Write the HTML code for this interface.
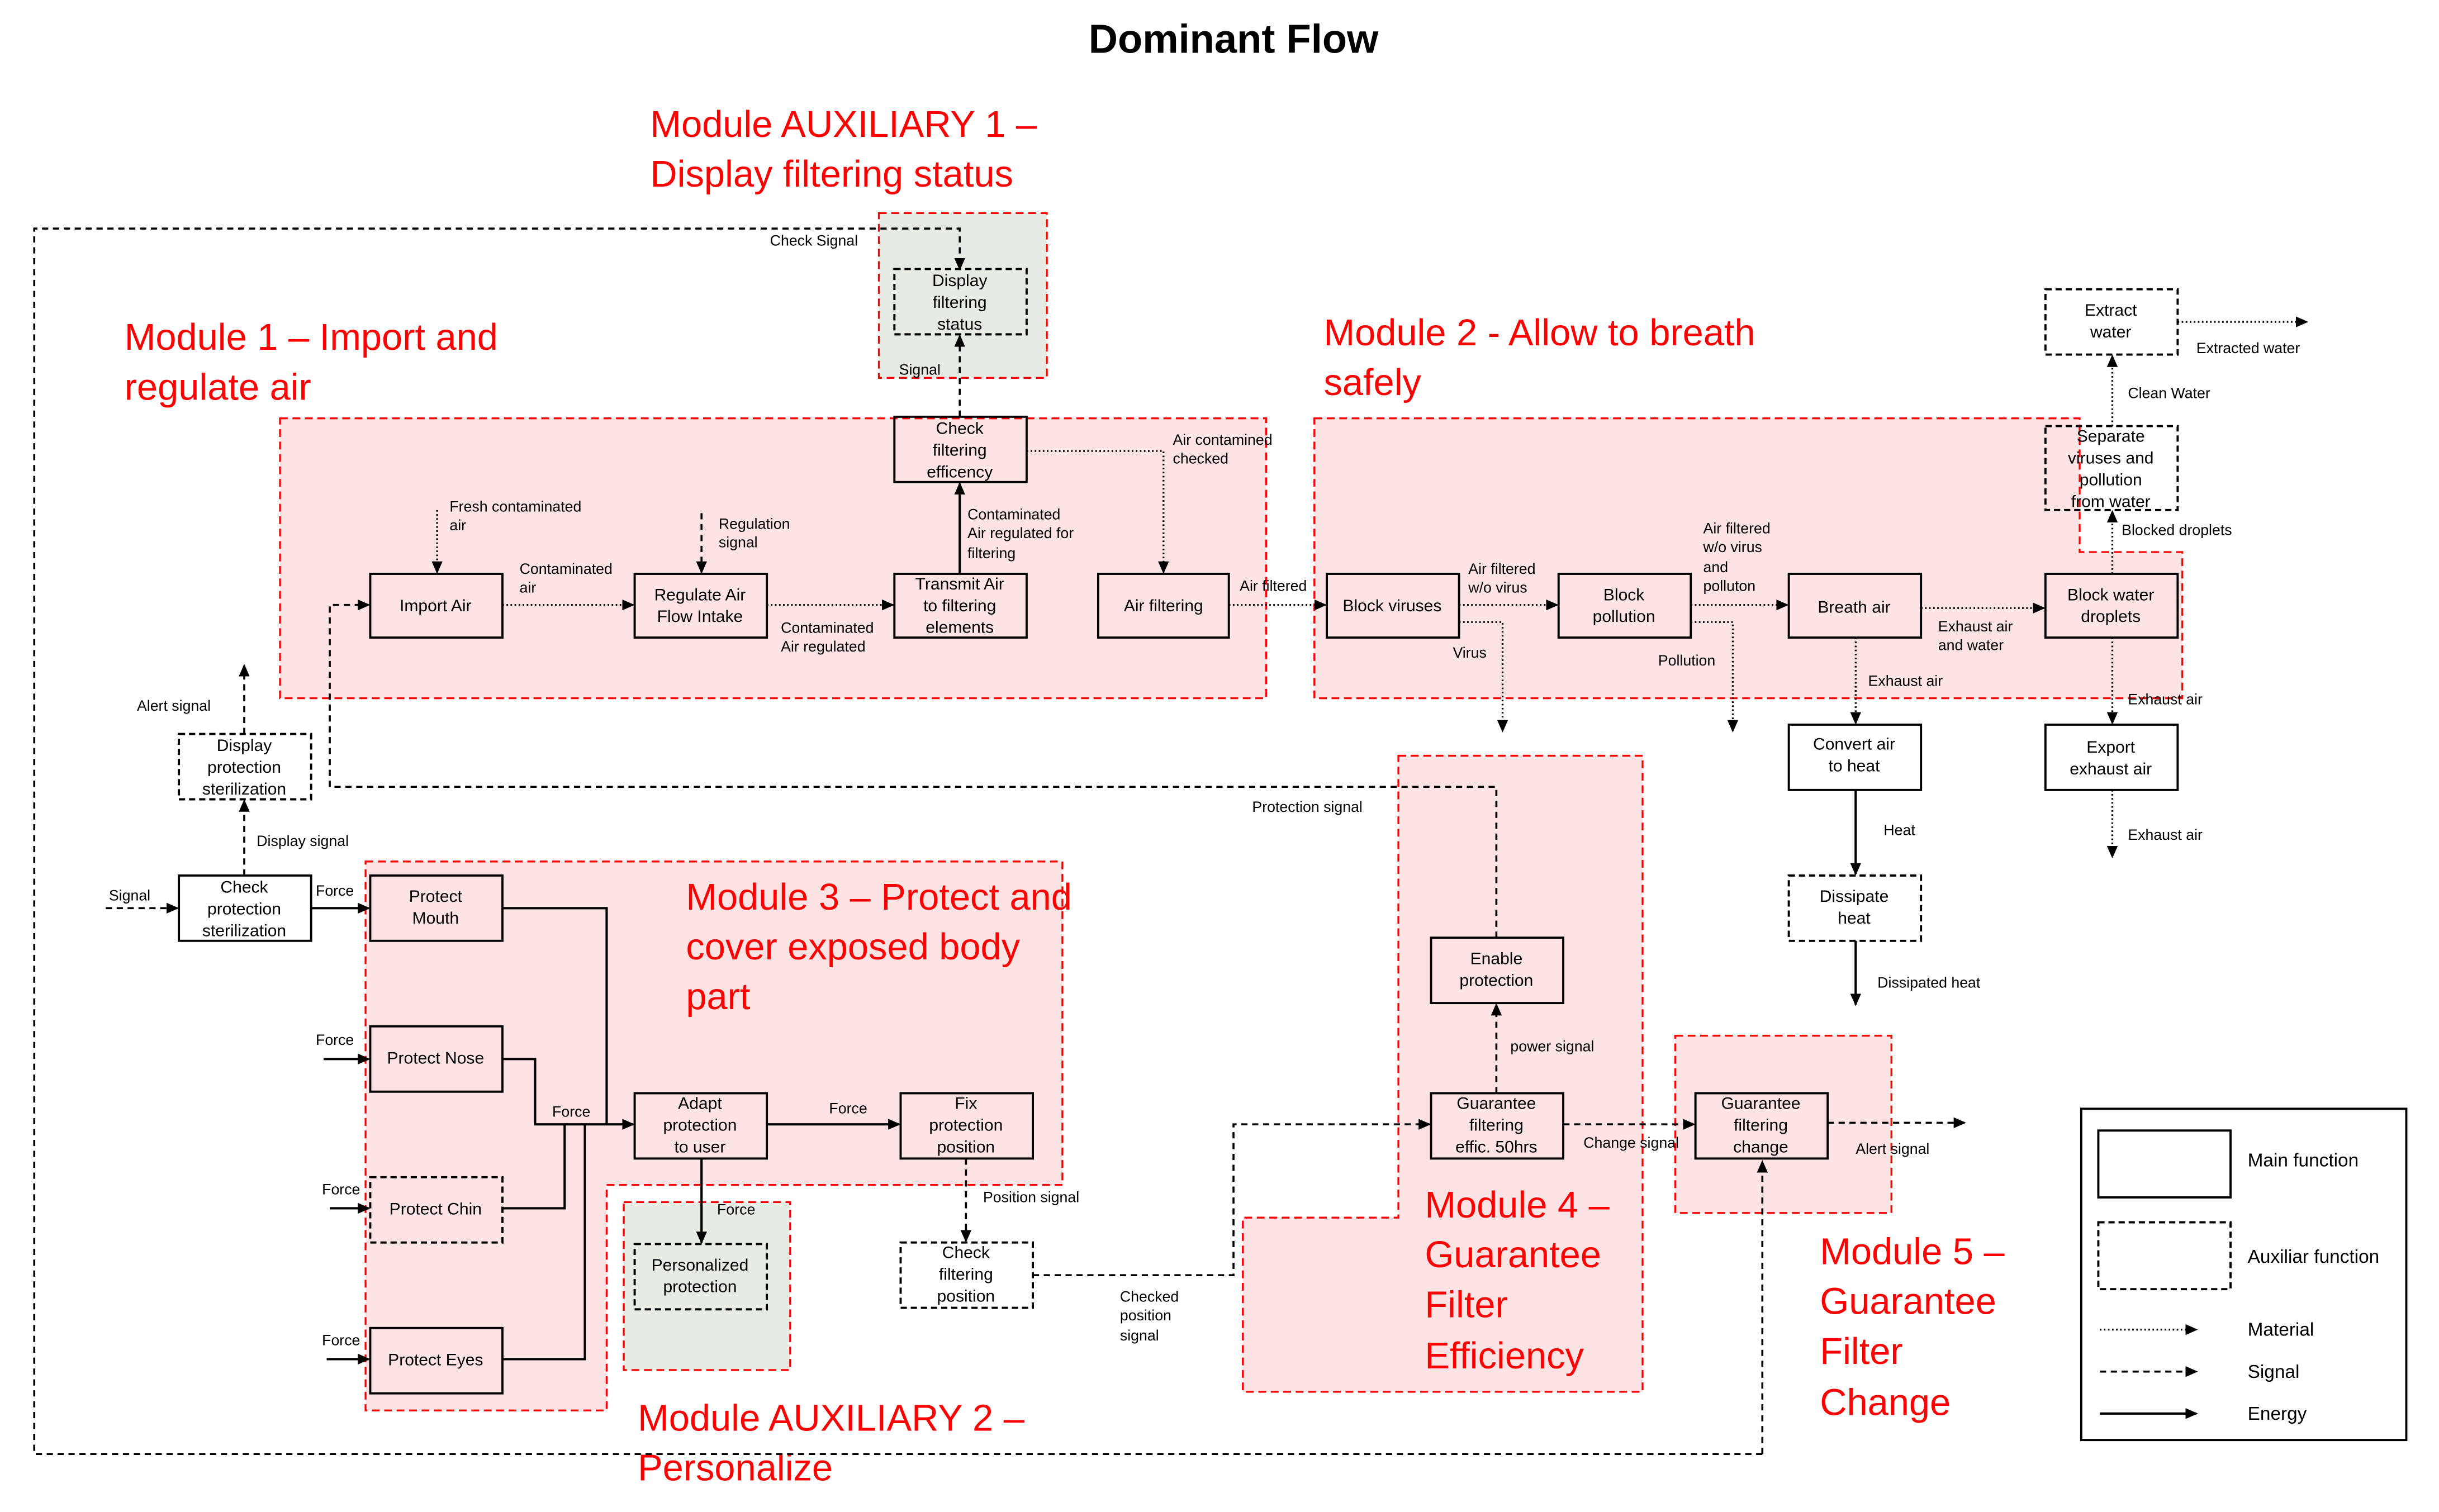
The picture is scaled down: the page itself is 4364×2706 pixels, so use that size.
<!DOCTYPE html>
<html><head><meta charset="utf-8"><style>
html,body{margin:0;padding:0;background:#fff}
svg{display:block}
text{font-family:"Liberation Sans",sans-serif}
.b{fill:none;stroke:#000;stroke-width:1.4}
.bd{fill:none;stroke:#000;stroke-width:1.4;stroke-dasharray:4 2.5}
.bt{font-size:10.8px;text-anchor:middle}
.l{font-size:9.6px}
.r{font-size:24px;fill:#f00}
.mod{fill:#fde3e3;stroke:#f00;stroke-width:1.2;stroke-dasharray:5 3}
.aux{fill:#e6ebe3;stroke:#f00;stroke-width:1.2;stroke-dasharray:5 3}
.m{fill:none;stroke:#000;stroke-width:1.2;stroke-dasharray:1 1.6}
.s{fill:none;stroke:#000;stroke-width:1.3;stroke-dasharray:4 3}
.e{fill:none;stroke:#000;stroke-width:1.5}
</style></head><body>
<svg width="4364" height="2706" viewBox="0 0 1568 972.3" xmlns="http://www.w3.org/2000/svg">
<defs><marker id="a" markerWidth="8" markerHeight="8" refX="7" refY="4" orient="auto" markerUnits="userSpaceOnUse"><path d="M0,0.5 L8,4 L0,7.5z" fill="#000"/></marker></defs>
<text x="793" y="34" text-anchor="middle" style="font-size:26px;font-weight:bold">Dominant Flow</text>

<rect class="mod" x="180" y="269" width="634" height="180"/>
<path class="mod" d="M845,269 H1337 V355 H1403 V449 H845Z"/>
<path class="mod" d="M235,554 H683 V762 H390 V907 H235Z"/>
<path class="mod" d="M899,486 H1056 V895 H799 V783 H899Z"/>
<rect class="mod" x="1077" y="666" width="139" height="114"/>
<rect class="aux" x="565" y="137" width="108" height="106"/>
<rect class="aux" x="401" y="773" width="107" height="108"/>

<text class="r" x="418" y="88">Module AUXILIARY 1 –</text>
<text class="r" x="418" y="120">Display filtering status</text>
<text class="r" x="80" y="225">Module 1 – Import and</text>
<text class="r" x="80" y="257">regulate air</text>
<text class="r" x="851" y="222">Module 2 - Allow to breath</text>
<text class="r" x="851" y="254">safely</text>
<text class="r" x="441" y="585">Module 3 – Protect and</text>
<text class="r" x="441" y="617">cover exposed body</text>
<text class="r" x="441" y="649">part</text>
<text class="r" x="410" y="920">Module AUXILIARY 2 –</text>
<text class="r" x="410" y="952">Personalize</text>
<text class="r" x="916" y="783">Module 4 –</text>
<text class="r" x="916" y="815">Guarantee</text>
<text class="r" x="916" y="847">Filter</text>
<text class="r" x="916" y="880">Efficiency</text>
<text class="r" x="1170" y="813">Module 5 –</text>
<text class="r" x="1170" y="845">Guarantee</text>
<text class="r" x="1170" y="877">Filter</text>
<text class="r" x="1170" y="910">Change</text>

<path class="s" d="M1133,935 H22 V147 H617 V173" marker-end="url(#a)"/>
<path class="s" d="M1133,935 V747" marker-end="url(#a)"/>
<text class="l" x="495" y="158">Check Signal</text>
<path class="m" d="M281,328 V368" marker-end="url(#a)"/>
<text class="l" x="289" y="329">Fresh contaminated</text><text class="l" x="289" y="341">air</text>
<path class="m" d="M323,389 H407" marker-end="url(#a)"/>
<text class="l" x="334" y="369">Contaminated</text><text class="l" x="334" y="381">air</text>
<path class="s" d="M451,330 V368" marker-end="url(#a)"/>
<text class="l" x="462" y="340">Regulation</text><text class="l" x="462" y="352">signal</text>
<path class="m" d="M493,389 H574" marker-end="url(#a)"/>
<text class="l" x="502" y="407">Contaminated</text><text class="l" x="502" y="419">Air regulated</text>
<path class="e" d="M617,369 V311" marker-end="url(#a)"/>
<text class="l" x="622" y="334">Contaminated</text><text class="l" x="622" y="346">Air regulated for</text><text class="l" x="622" y="359">filtering</text>
<path class="s" d="M617,268 V216" marker-end="url(#a)"/>
<text class="l" x="578" y="241">Signal</text>
<path class="m" d="M660,290 H748 V368" marker-end="url(#a)"/>
<text class="l" x="754" y="286">Air contamined</text><text class="l" x="754" y="298">checked</text>
<path class="m" d="M790,389 H852" marker-end="url(#a)"/>
<text class="l" x="797" y="380">Air filtered</text>
<path class="m" d="M938,389 H1001" marker-end="url(#a)"/>
<text class="l" x="944" y="369">Air filtered</text><text class="l" x="944" y="381">w/o virus</text>
<path class="m" d="M938,400 H966 V470" marker-end="url(#a)"/>
<text class="l" x="934" y="423">Virus</text>
<path class="m" d="M1087,389 H1149" marker-end="url(#a)"/>
<text class="l" x="1095" y="343">Air filtered</text><text class="l" x="1095" y="355">w/o virus</text><text class="l" x="1095" y="368">and</text><text class="l" x="1095" y="380">polluton</text>
<path class="m" d="M1087,400 H1114 V470" marker-end="url(#a)"/>
<text class="l" x="1066" y="428">Pollution</text>
<path class="m" d="M1235,391 H1314" marker-end="url(#a)"/>
<text class="l" x="1246" y="406">Exhaust air</text><text class="l" x="1246" y="418">and water</text>
<path class="m" d="M1193,410 V465" marker-end="url(#a)"/>
<text class="l" x="1201" y="441">Exhaust air</text>
<path class="m" d="M1358,410 V465" marker-end="url(#a)"/>
<text class="l" x="1368" y="453">Exhaust air</text>
<path class="m" d="M1358,508 V551" marker-end="url(#a)"/>
<text class="l" x="1368" y="540">Exhaust air</text>
<path class="m" d="M1358,369 V329" marker-end="url(#a)"/>
<text class="l" x="1364" y="344">Blocked droplets</text>
<path class="m" d="M1358,274 V229" marker-end="url(#a)"/>
<text class="l" x="1368" y="256">Clean Water</text>
<path class="m" d="M1400,207 H1483" marker-end="url(#a)"/>
<text class="l" x="1412" y="227">Extracted water</text>
<path class="e" d="M1193,508 V562" marker-end="url(#a)"/>
<text class="l" x="1211" y="537">Heat</text>
<path class="e" d="M1193,605 V646" marker-end="url(#a)"/>
<text class="l" x="1207" y="635">Dissipated heat</text>
<path class="s" d="M962,603 V506 H212 V389 H237" marker-end="url(#a)"/>
<text class="l" x="805" y="522">Protection signal</text>
<path class="s" d="M962,703 V646" marker-end="url(#a)"/>
<text class="l" x="971" y="676">power signal</text>
<path class="s" d="M1005,723 H1089" marker-end="url(#a)"/>
<text class="l" x="1018" y="738">Change signal</text>
<path class="s" d="M1175,722 H1263" marker-end="url(#a)"/>
<text class="l" x="1193" y="742">Alert signal</text>
<path class="s" d="M664,820 H793 V723 H919" marker-end="url(#a)"/>
<text class="l" x="720" y="837">Checked</text><text class="l" x="720" y="849">position</text><text class="l" x="720" y="862">signal</text>
<path class="s" d="M621,745 V798" marker-end="url(#a)"/>
<text class="l" x="632" y="773">Position signal</text>
<path class="e" d="M493,723 H578" marker-end="url(#a)"/>
<text class="l" x="533" y="716">Force</text>
<path class="e" d="M451,745 V799" marker-end="url(#a)"/>
<text class="l" x="461" y="781">Force</text>
<path class="e" d="M323,584 H390 V723"/>
<path class="e" d="M323,681 H344 V723 H407" marker-end="url(#a)"/>
<path class="e" d="M323,777 H363 V723"/>
<path class="e" d="M323,874 H376 V723"/>
<text class="l" x="355" y="718">Force</text>
<path class="e" d="M208,681 H237" marker-end="url(#a)"/>
<text class="l" x="203" y="672">Force</text>
<path class="e" d="M212,777 H237" marker-end="url(#a)"/>
<text class="l" x="207" y="768">Force</text>
<path class="e" d="M210,874 H237" marker-end="url(#a)"/>
<text class="l" x="207" y="865">Force</text>
<path class="e" d="M200,584 H237" marker-end="url(#a)"/>
<text class="l" x="203" y="576">Force</text>
<path class="s" d="M68,584 H114" marker-end="url(#a)"/>
<text class="l" x="70" y="579">Signal</text>
<path class="s" d="M157,563 V515" marker-end="url(#a)"/>
<text class="l" x="165" y="544">Display signal</text>
<path class="s" d="M157,472 V428" marker-end="url(#a)"/>
<text class="l" x="88" y="457">Alert signal</text>

<g>
<rect class="bd" x="575" y="173" width="85" height="42"/>
<text class="bt" x="617" y="184">Display</text><text class="bt" x="617" y="198">filtering</text><text class="bt" x="617" y="212">status</text>
<rect class="b" x="238" y="369" width="85" height="41"/><text class="bt" x="280" y="393">Import Air</text>
<rect class="b" x="408" y="369" width="85" height="41"/><text class="bt" x="450" y="386">Regulate Air</text><text class="bt" x="450" y="400">Flow Intake</text>
<rect class="b" x="575" y="369" width="85" height="41"/><text class="bt" x="617" y="379">Transmit Air</text><text class="bt" x="617" y="393">to filtering</text><text class="bt" x="617" y="407">elements</text>
<rect class="b" x="706" y="369" width="84" height="41"/><text class="bt" x="748" y="393">Air filtering</text>
<rect class="b" x="575" y="268" width="85" height="42"/><text class="bt" x="617" y="279">Check</text><text class="bt" x="617" y="293">filtering</text><text class="bt" x="617" y="307">efficency</text>
<rect class="b" x="853" y="369" width="85" height="41"/><text class="bt" x="895" y="393">Block viruses</text>
<rect class="b" x="1002" y="369" width="85" height="41"/><text class="bt" x="1044" y="386">Block</text><text class="bt" x="1044" y="400">pollution</text>
<rect class="b" x="1150" y="369" width="85" height="41"/><text class="bt" x="1192" y="394">Breath air</text>
<rect class="b" x="1315" y="369" width="85" height="41"/><text class="bt" x="1357" y="386">Block water</text><text class="bt" x="1357" y="400">droplets</text>
<rect class="bd" x="1315" y="186" width="85" height="42"/><text class="bt" x="1357" y="203">Extract</text><text class="bt" x="1357" y="217">water</text>
<rect class="bd" x="1315" y="274" width="85" height="54"/><text class="bt" x="1357" y="284">Separate</text><text class="bt" x="1357" y="298">viruses and</text><text class="bt" x="1357" y="312">pollution</text><text class="bt" x="1357" y="326">from water</text>
<rect class="b" x="1315" y="466" width="85" height="42"/><text class="bt" x="1357" y="484">Export</text><text class="bt" x="1357" y="498">exhaust air</text>
<rect class="b" x="1150" y="466" width="85" height="42"/><text class="bt" x="1192" y="482">Convert air</text><text class="bt" x="1192" y="496">to heat</text>
<rect class="bd" x="1150" y="563" width="85" height="42"/><text class="bt" x="1192" y="580">Dissipate</text><text class="bt" x="1192" y="594">heat</text>
<rect class="bd" x="115" y="472" width="85" height="42"/><text class="bt" x="157" y="483">Display</text><text class="bt" x="157" y="497">protection</text><text class="bt" x="157" y="511">sterilization</text>
<rect class="b" x="115" y="563" width="85" height="42"/><text class="bt" x="157" y="574">Check</text><text class="bt" x="157" y="588">protection</text><text class="bt" x="157" y="602">sterilization</text>
<rect class="b" x="238" y="563" width="85" height="42"/><text class="bt" x="280" y="580">Protect</text><text class="bt" x="280" y="594">Mouth</text>
<rect class="b" x="238" y="660" width="85" height="42"/><text class="bt" x="280" y="684">Protect Nose</text>
<rect class="bd" x="238" y="757" width="85" height="42"/><text class="bt" x="280" y="781">Protect Chin</text>
<rect class="b" x="238" y="854" width="85" height="42"/><text class="bt" x="280" y="878">Protect Eyes</text>
<rect class="b" x="408" y="703" width="85" height="42"/><text class="bt" x="450" y="713">Adapt</text><text class="bt" x="450" y="727">protection</text><text class="bt" x="450" y="741">to user</text>
<rect class="b" x="579" y="703" width="85" height="42"/><text class="bt" x="621" y="713">Fix</text><text class="bt" x="621" y="727">protection</text><text class="bt" x="621" y="741">position</text>
<rect class="bd" x="408" y="800" width="85" height="42"/><text class="bt" x="450" y="817">Personalized</text><text class="bt" x="450" y="831">protection</text>
<rect class="bd" x="579" y="799" width="85" height="42"/><text class="bt" x="621" y="809">Check</text><text class="bt" x="621" y="823">filtering</text><text class="bt" x="621" y="837">position</text>
<rect class="b" x="920" y="603" width="85" height="42"/><text class="bt" x="962" y="620">Enable</text><text class="bt" x="962" y="634">protection</text>
<rect class="b" x="920" y="703" width="85" height="42"/><text class="bt" x="962" y="713">Guarantee</text><text class="bt" x="962" y="727">filtering</text><text class="bt" x="962" y="741">effic. 50hrs</text>
<rect class="b" x="1090" y="703" width="85" height="42"/><text class="bt" x="1132" y="713">Guarantee</text><text class="bt" x="1132" y="727">filtering</text><text class="bt" x="1132" y="741">change</text>
</g>

<rect x="1338" y="713" width="209" height="213" fill="#fff" stroke="#000" stroke-width="1.4"/>
<rect class="b" x="1349" y="727" width="85" height="43"/>
<rect class="bd" x="1349" y="786" width="85" height="43"/>
<text x="1445" y="750" style="font-size:12px">Main function</text>
<text x="1445" y="812" style="font-size:12px">Auxiliar function</text>
<path class="m" d="M1350,855 H1412" marker-end="url(#a)"/>
<path class="s" d="M1350,882 H1412" marker-end="url(#a)"/>
<path class="e" d="M1350,909 H1412" marker-end="url(#a)"/>
<text x="1445" y="859" style="font-size:12px">Material</text>
<text x="1445" y="886" style="font-size:12px">Signal</text>
<text x="1445" y="913" style="font-size:12px">Energy</text>
</svg>
</body></html>
